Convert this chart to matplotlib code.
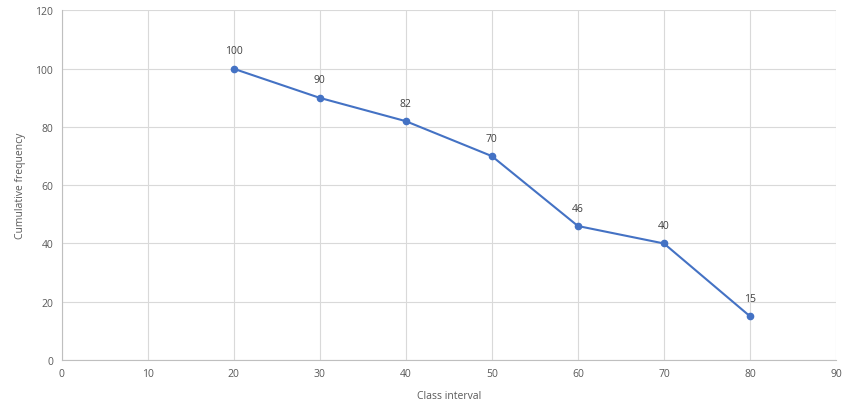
import matplotlib
matplotlib.use("Agg")
import matplotlib.pyplot as plt

# data
class_interval = [20, 30, 40, 50, 60, 70, 80]
cum_freq = [100, 90, 82, 70, 46, 40, 15]

x_ticks = list(range(0, 91, 10))
y_ticks = list(range(0, 121, 20))

plt.rcParams['font.family'] = ['Open Sans', 'DejaVu Sans']

fig = plt.figure(figsize=(8.51, 4.10), dpi=100)
ax = fig.add_axes([0.0723, 0.1195, 0.9102, 0.8525])

line_color = '#4472C4'
text_color = '#595959'
grid_color = '#D9D9D9'

ax.plot(class_interval, cum_freq, color=line_color, linewidth=1.5,
        marker='o', markersize=4.5, zorder=3)

for xv, yv in zip(class_interval, cum_freq):
    ax.annotate(str(yv), (xv, yv), xytext=(0, 9), textcoords='offset points',
                ha='center', va='bottom', fontsize=7.5, color='#404040')

ax.set_xlim(0, 90)
ax.set_ylim(0, 120)
ax.set_xticks(x_ticks)
ax.set_yticks(y_ticks)
ax.tick_params(axis='both', length=0, labelsize=7.5, labelcolor=text_color, pad=6)

ax.grid(True, color=grid_color, linewidth=0.8)
ax.set_axisbelow(True)
for side in ['top', 'right']:
    ax.spines[side].set_visible(False)
for side in ['left', 'bottom']:
    ax.spines[side].set_color('#BFBFBF')
    ax.spines[side].set_linewidth(0.8)

ax.set_xlabel('Class interval', fontsize=7.5, color=text_color, labelpad=8)
ax.set_ylabel('Cumulative frequency', fontsize=7.5, color=text_color, labelpad=7)

fig.savefig('out.png', dpi=100)
